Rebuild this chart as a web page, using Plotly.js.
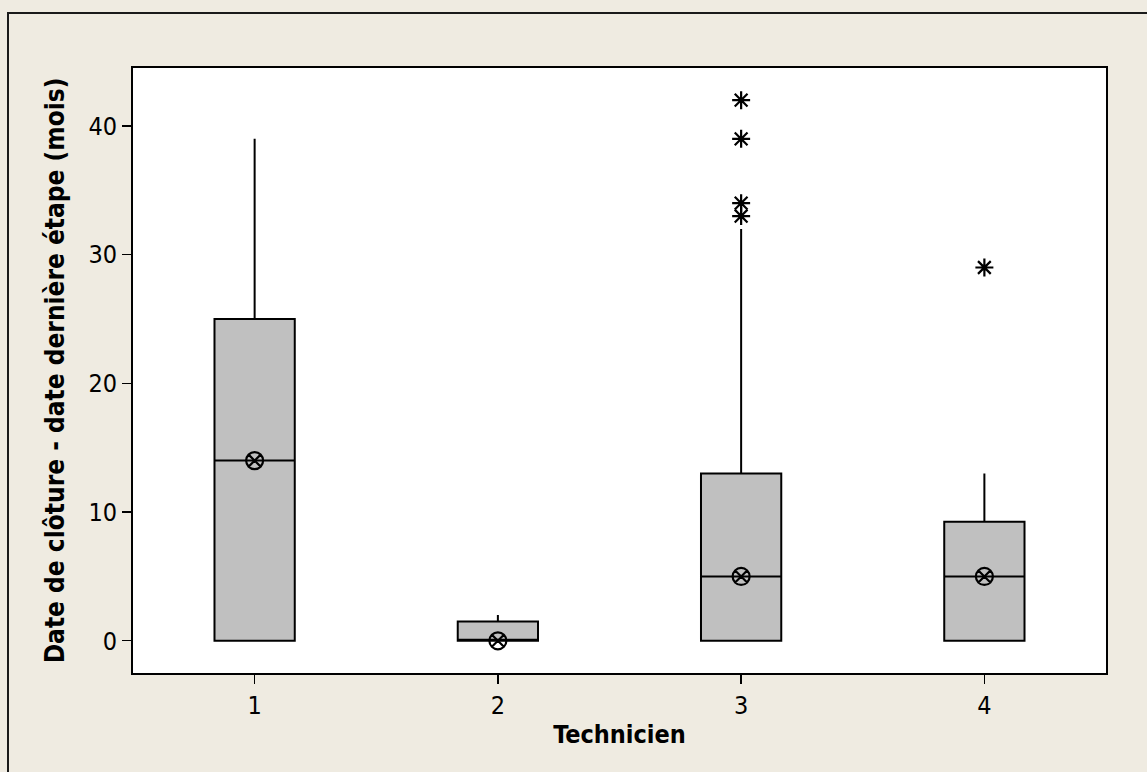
<!DOCTYPE html>
<html>
<head>
<meta charset="utf-8">
<script src="https://cdn.plot.ly/plotly-3.0.1.min.js"></script>
<style>
html,body{margin:0;padding:0;background:#EFEBE1;}
#wrap{position:relative;width:1147px;height:772px;}
#chart{position:absolute;left:0;top:0;width:1147px;height:772px;}
#frame{position:absolute;left:7px;top:12px;width:1160px;height:800px;border-left:2px solid #1a1a1a;border-top:2px solid #1a1a1a;pointer-events:none;}
</style>
</head>
<body>
<div id="wrap"><div id="chart"></div><div id="frame"></div></div>
<script>
const technicians = [1, 2, 3, 4];
const q1 = [0, 0, 0, 0];
const median = [14, 0, 5, 5];
const q3 = [25, 1.5, 13, 9.25];
const lowerWhisker = [0, 0, 0, 0];
const upperWhisker = [39, 2, 32, 13];
const means = [14, 0, 5, 5];
const outlierX = [3, 3, 3, 3, 4];
const outlierY = [33, 34, 39, 42, 29];
const xTickLabels = ['1', '2', '3', '4'];

const FONT = '"DejaVu Sans Condensed", "DejaVu Sans", Verdana, sans-serif';

const boxTrace = {
  type: 'box',
  x: technicians,
  q1: q1,
  median: median,
  q3: q3,
  lowerfence: lowerWhisker,
  upperfence: upperWhisker,
  width: 0.33,
  whiskerwidth: 0,
  fillcolor: '#C0C0C0',
  line: {color: '#000000', width: 2},
  boxpoints: false,
  hoverinfo: 'skip',
  showlegend: false
};
const meanTrace = {
  type: 'scatter', mode: 'markers',
  x: technicians, y: means,
  marker: {symbol: 'circle-x-open', size: 17, color: '#000000', line: {width: 2.2, color: '#000000'}},
  showlegend: false
};
const outlierTrace = {
  type: 'scatter', mode: 'markers',
  x: outlierX, y: outlierY,
  marker: {symbol: 'asterisk-open', size: 15, color: '#000000', line: {width: 2.2, color: '#000000'}},
  showlegend: false
};

const layout = {
  width: 1147, height: 772,
  paper_bgcolor: 'rgba(0,0,0,0)',
  plot_bgcolor: '#FFFFFF',
  margin: {l: 133, r: 41, t: 68, b: 99},
  font: {family: FONT, color: '#000000', size: 25},
  showlegend: false,
  xaxis: {
    range: [0.5, 4.5],
    tickmode: 'array', tickvals: technicians, ticktext: xTickLabels,
    ticks: 'outside', ticklen: 9, tickwidth: 1.3, tickcolor: '#000',
    showgrid: false, zeroline: false,
    showline: true, linecolor: '#000', linewidth: 2, mirror: true,
    tickfont: {family: FONT, size: 25},
    title: {text: '<b>Technicien</b>', font: {family: FONT, size: 25}, standoff: 6}
  },
  yaxis: {
    range: [-2.5, 44.5],
    tickvals: [0, 10, 20, 30, 40],
    ticks: 'outside', ticklen: 9, tickwidth: 1.3, tickcolor: '#000',
    showgrid: false, zeroline: false,
    showline: true, linecolor: '#000', linewidth: 2, mirror: true,
    tickfont: {family: FONT, size: 25},
    title: {text: '<b>Date de clôture - date dernière étape (mois)</b>', font: {family: FONT, size: 26}, standoff: 16}
  }
};
Plotly.newPlot('chart', [boxTrace, meanTrace, outlierTrace], layout, {displayModeBar: false, staticPlot: true});
</script>
</body>
</html>
